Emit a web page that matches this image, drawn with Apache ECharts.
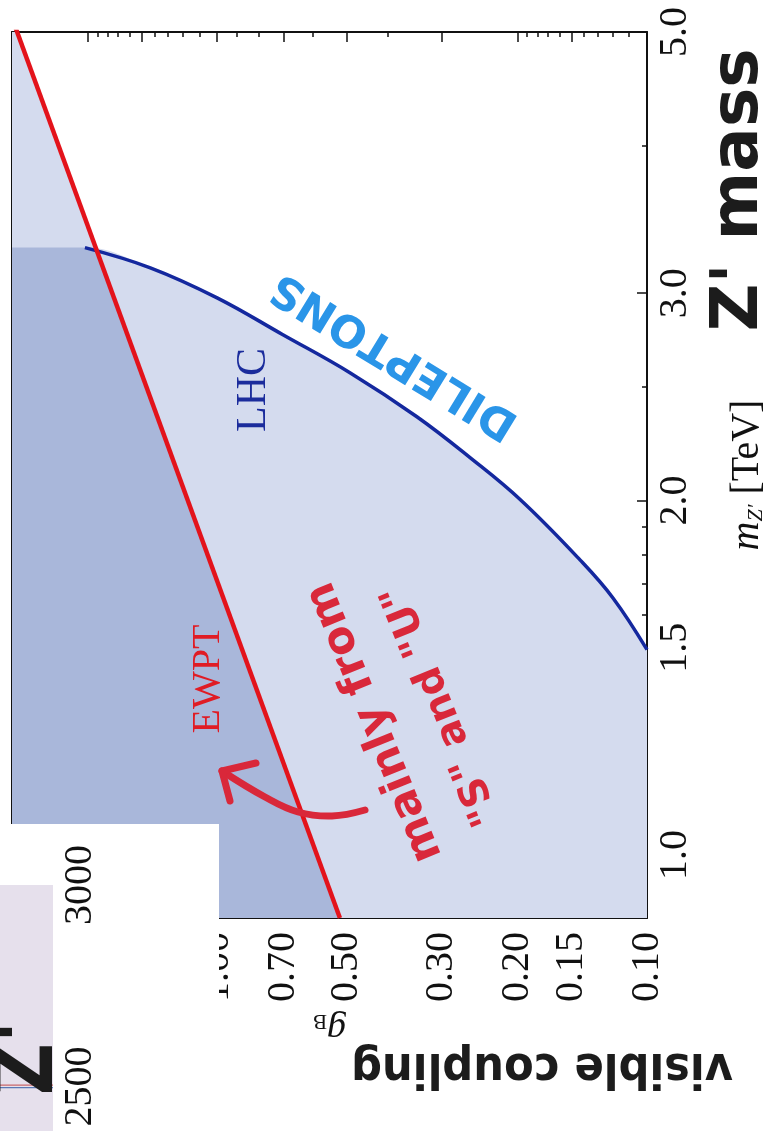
<!DOCTYPE html>
<html>
<head>
<meta charset="utf-8">
<script src="https://cdn.jsdelivr.net/npm/echarts@6/dist/echarts.min.js"></script>
<style>
html, body { margin: 0; padding: 0; background: #fff; }
#chart { width: 778px; height: 1131px; }
</style>
</head>
<body>
<div id="chart"></div>
<script>
// horizontal: coupling g_B (log, reversed), vertical: Z' mass in TeV (log)
var gTicksMajor = [0.1, 0.15, 0.2, 0.3, 0.5, 0.7, 1.0, 1.5, 2.0];
var gTicksMinor = [0.11, 0.12, 0.13, 0.14, 0.16, 0.17, 0.18, 0.19, 0.4, 0.6, 0.8, 0.9, 1.1, 1.2, 1.3, 1.4, 1.6, 1.7, 1.8, 1.9];
var gLabels = [0.1, 0.15, 0.2, 0.3, 0.5, 0.7, 1.0];
var mTicksMajor = [1.0, 1.5, 2.0, 3.0, 5.0];
var mTicksMinor = [0.9, 1.1, 1.2, 1.3, 1.4, 1.6, 1.7, 1.8, 1.9, 2.5, 4.0];
var mLabels = [1.0, 1.5, 2.0, 3.0, 5.0];

// LHC dilepton limit
var lhcG = [2.03, 1.43, 1.00, 0.703, 0.491, 0.343, 0.258, 0.197, 0.143, 0.120, 0.100];
var lhcM = [3.28, 3.153, 2.973, 2.766, 2.568, 2.356, 2.175, 2.003, 1.780, 1.653, 1.494];

// EWPT bound (straight line on log-log)
var ewptG = [3.0, 0.518];
var ewptM = [5.14, 0.884];

// part excluded by both
var bothG = [3.0, 1.92, 0.518];
var bothM = [3.28, 3.28, 0.884];

// neighbouring figure that shows at the lower left
var otherTicks = [2400, 2500, 2600, 2700, 2800, 2900, 3000];
var otherLabels = [2500, 3000];
var otherX = [0, 1];
var otherRed = [2503, 2503];
var otherBlue = [2497, 2497];

var gMin = 0.1, gMax = 3.0, mMin = 0.884, mMax = 5.0;
var ink = '#111111';
var serif = '"Liberation Serif", "DejaVu Serif", serif';
var hand = '"DejaVu Sans", sans-serif';
var light = '#d4dbee';
var dark = '#a9b7da';

function zip(a, b) {
    return a.map(function (v, i) { return [v, b[i]]; });
}

function frameAxis(kind, grid, pos, ticks, len, lineShow) {
    var isG = kind === 'g';
    return {
        type: 'log',
        gridIndex: grid,
        position: pos,
        inverse: isG,
        min: isG ? gMin : mMin,
        max: isG ? gMax : mMax,
        axisLine: { show: lineShow, lineStyle: { color: ink, width: 2 } },
        axisTick: { show: true, inside: true, length: len, customValues: ticks, lineStyle: { color: ink, width: 1.5 } },
        axisLabel: { show: false },
        minorTick: { show: false },
        splitLine: { show: false }
    };
}

var xBottom = frameAxis('g', 0, 'bottom', gTicksMajor, 10, true);
xBottom.axisLabel = {
    show: true, customValues: gLabels, rotate: 90, margin: 14,
    fontFamily: serif, fontSize: 40, color: ink,
    formatter: function (v) { return Number(v).toFixed(2); }
};
xBottom.name = '{i|g}{s|B}';
xBottom.nameLocation = 'middle';
xBottom.nameGap = 90;
xBottom.nameRotate = 180;
xBottom.nameTextStyle = {
    rich: {
        i: { fontFamily: serif, fontStyle: 'italic', fontSize: 38, color: ink, lineHeight: 38 },
        s: { fontFamily: serif, fontSize: 21, color: ink, verticalAlign: 'bottom', lineHeight: 14 }
    }
};

var yRight = frameAxis('m', 0, 'right', mTicksMajor, 10, true);
yRight.axisLabel = {
    show: true, customValues: mLabels, rotate: 90, margin: 8,
    fontFamily: serif, fontSize: 40, color: ink,
    formatter: function (v) { return Number(v).toFixed(1); }
};
yRight.name = '{i|m}{s|Z\u2032}{r| [TeV]}';
yRight.nameLocation = 'middle';
yRight.nameGap = 80;
yRight.nameRotate = 90;
yRight.nameTextStyle = {
    rich: {
        i: { fontFamily: serif, fontStyle: 'italic', fontSize: 40, color: ink, lineHeight: 40 },
        s: { fontFamily: serif, fontStyle: 'italic', fontSize: 22, color: ink, verticalAlign: 'bottom', lineHeight: 14 },
        r: { fontFamily: serif, fontSize: 40, color: ink, lineHeight: 40 }
    }
};

var option = {
    animation: false,
    backgroundColor: '#ffffff',
    grid: [
        { left: 12, right: 131, top: 32, bottom: 213, outerBoundsMode: 'none' },
        { left: 12, right: 131, top: 32, bottom: 213, outerBoundsMode: 'none' },
        { left: -100, right: 725, top: 885, bottom: -36, outerBoundsMode: 'none',
          show: true, backgroundColor: '#e6e0ec', borderWidth: 0, z: 6 }
    ],
    xAxis: [
        xBottom,
        frameAxis('g', 0, 'top', gTicksMajor, 10, true),
        frameAxis('g', 1, 'bottom', gTicksMinor, 5, false),
        frameAxis('g', 1, 'top', gTicksMinor, 5, false),
        { type: 'value', gridIndex: 2, min: 0, max: 1, show: false }
    ],
    yAxis: [
        yRight,
        frameAxis('m', 0, 'left', mTicksMajor, 10, true),
        frameAxis('m', 1, 'right', mTicksMinor, 5, false),
        frameAxis('m', 1, 'left', mTicksMinor, 5, false),
        {
            type: 'value', gridIndex: 2, position: 'right', min: 2300, max: 3000, interval: 100, z: 7,
            axisLine: { show: true, lineStyle: { color: ink, width: 2 } },
            axisTick: { show: true, inside: true, length: 5, customValues: otherTicks, lineStyle: { color: ink, width: 1.5 } },
            axisLabel: {
                show: true, customValues: otherLabels, rotate: 90, margin: 7,
                fontFamily: serif, fontSize: 40, color: ink,
                formatter: function (v) { return String(v); }
            },
            splitLine: { show: false }
        }
    ],
    series: [
        {
            name: 'EWPT area', type: 'line', xAxisIndex: 0, yAxisIndex: 0,
            data: zip(ewptG, ewptM), symbol: 'none', lineStyle: { width: 0 },
            areaStyle: { color: light, opacity: 1, origin: 'start' }
        },
        {
            name: 'LHC area', type: 'line', xAxisIndex: 0, yAxisIndex: 0,
            data: [[gMax, lhcM[0]]].concat(zip(lhcG, lhcM)), symbol: 'none', lineStyle: { width: 0 },
            smooth: 0.4,
            areaStyle: { color: light, opacity: 1, origin: 'start' }
        },
        {
            name: 'both', type: 'line', xAxisIndex: 0, yAxisIndex: 0,
            data: zip(bothG, bothM), symbol: 'none', lineStyle: { width: 0 },
            areaStyle: { color: dark, opacity: 1, origin: 'start' }
        },
        {
            name: 'LHC', type: 'line', xAxisIndex: 0, yAxisIndex: 0,
            data: zip(lhcG, lhcM), symbol: 'none', smooth: 0.4,
            lineStyle: { color: '#14289e', width: 3.5 }
        },
        {
            name: 'EWPT', type: 'line', xAxisIndex: 0, yAxisIndex: 0,
            data: zip(ewptG, ewptM), symbol: 'none',
            lineStyle: { color: '#e3131b', width: 4.5 }
        },
        {
            name: 'other red', type: 'line', xAxisIndex: 4, yAxisIndex: 4, z: 7,
            data: zip(otherX, otherRed), symbol: 'none', lineStyle: { color: '#c8676b', width: 1.2 }
        },
        {
            name: 'other blue', type: 'line', xAxisIndex: 4, yAxisIndex: 4, z: 7,
            data: zip(otherX, otherBlue), symbol: 'none', lineStyle: { color: '#5a78b4', width: 1.2 }
        }
    ],
    graphic: [
        // the paper behind, covering the lower left of the plot
        { type: 'rect', z: 5, shape: { x: 0, y: 824, width: 219, height: 307 }, style: { fill: '#ffffff' } },
        { type: 'text', z: 50, x: 254, y: 390, rotation: Math.PI / 2,
          style: { text: 'LHC', font: '42px ' + serif, fill: '#1b2c9c', align: 'center', verticalAlign: 'middle' } },
        { type: 'text', z: 50, x: 208, y: 679, rotation: Math.PI / 2,
          style: { text: 'EWPT', font: '40px ' + serif, fill: '#e01c24', align: 'center', verticalAlign: 'middle' } },
        { type: 'text', z: 50, x: 395, y: 355, rotation: 2.594,
          style: { text: 'DILEPTONS', font: 'bold 44px ' + hand, fill: '#2a95e8', align: 'center', verticalAlign: 'middle' } },
        { type: 'text', z: 50, x: 740, y: 190, rotation: Math.PI / 2,
          style: { text: 'Z\' mass', font: 'bold 66px ' + hand, fill: '#1c1c1c', align: 'center', verticalAlign: 'middle' } },
        { type: 'text', z: 50, x: 542, y: 1066, rotation: Math.PI, scaleX: 0.9,
          style: { text: 'visible coupling', font: 'bold 48px ' + hand, fill: '#1c1c1c', align: 'center', verticalAlign: 'middle' } },
        { type: 'text', z: 50, x: 375, y: 722, rotation: 1.955,
          style: { text: 'mainly from', font: 'bold 44px ' + hand, fill: '#d9283a', align: 'center', verticalAlign: 'middle' } },
        { type: 'text', z: 50, x: 442, y: 705, rotation: 1.955,
          style: { text: '"S" and "U"', font: 'bold 40px ' + hand, fill: '#d9283a', align: 'center', verticalAlign: 'middle' } },
        { type: 'polyline', z: 50,
          shape: { points: [[365, 810], [332, 816], [298, 812], [265, 797], [222, 771]], smooth: 0.4 },
          style: { stroke: '#d9283a', lineWidth: 7, lineCap: 'round', fill: null } },
        { type: 'polyline', z: 50,
          shape: { points: [[256, 763], [222, 771], [230, 801]] },
          style: { stroke: '#d9283a', lineWidth: 7, lineCap: 'round', lineJoin: 'round', fill: null } },
        { type: 'text', z: 50, x: 30, y: 1058, rotation: Math.PI / 2, scaleY: 1.2,
          style: { text: 'Z\'', font: 'bold 72px ' + hand, fill: '#1c1c1c', align: 'center', verticalAlign: 'middle' } }
    ]
};

var chart = echarts.init(document.getElementById('chart'));
chart.setOption(option);
</script>
</body>
</html>
